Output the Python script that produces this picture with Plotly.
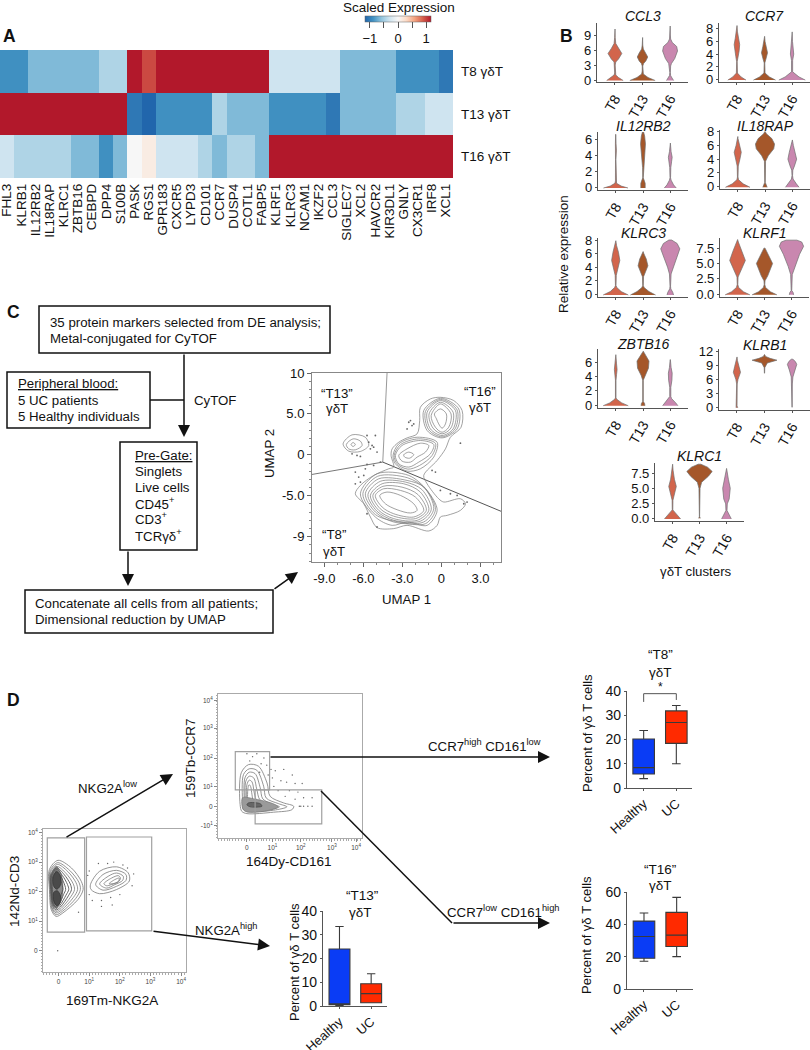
"""
Multi-panel figure: heatmap (A), violins (B), CyTOF workflow + UMAP (C), gating + boxplots (D).
Everything sits on one 810x1050 canvas, panels are placed by pixel boxes.
"""

import plotly.graph_objects as go

W, H = 810, 1050
FONT = "Liberation Sans, Arial, sans-serif"
AXIS_COLOR = "#555555"
RING_COLOR = "#7a7a7a"

# ─── A: heatmap ──────────────────────────────────────────────────────
GENES = ["FHL3", "KLRB1", "IL12RB2", "IL18RAP", "KLRC1", "ZBTB16", "CEBPD", "DPP4", "S100B",
         "PASK", "RGS1", "GPR183", "CXCR5", "LYPD3", "CD101", "CCR7", "DUSP4", "COTL1", "FABP5",
         "KLRF1", "KLRC3", "NCAM1", "IKZF2", "CCL3", "SIGLEC7", "XCL2", "HAVCR2", "KIR3DL1",
         "GNLY", "CX3CR1", "IRF8", "XCL1"]
ROWS = ["T8 γδT", "T13 γδT", "T16 γδT"]
Z_T8 = [-0.9, -0.9, -0.65, -0.65, -0.65, -0.65, -0.65, -0.45, -0.45,
        1.17, 0.97, 1.17, 1.17, 1.17, 1.17, 1.17, 1.17, 1.17, 1.17,
        -0.3, -0.3, -0.3, -0.3, -0.3, -0.65, -0.65, -0.65, -0.65,
        -0.9, -0.9, -0.9, -1.05]
Z_T13 = [1.17, 1.17, 1.17, 1.17, 1.17, 1.17, 1.17, 1.17, 1.17,
         -1.05, -1.17, -0.9, -0.9, -0.9, -0.9, -0.45, -0.65, -0.65, -0.65,
         -0.9, -0.9, -0.9, -0.9, -1.05, -0.65, -0.65, -0.65, -0.65,
         -0.45, -0.45, -0.3, -0.3]
Z_T16 = [-0.3, -0.45, -0.45, -0.45, -0.45, -0.65, -0.65, -0.9, -0.65,
         0.0, 0.12, -0.3, -0.3, -0.3, -0.45, -0.65, -0.45, -0.45, -0.65,
         1.17, 1.17, 1.17, 1.17, 1.17, 1.17, 1.17, 1.17, 1.17,
         1.17, 1.17, 1.17, 1.17]
RDBU = [[0.0, "#2166ac"], [0.125, "#4393c3"], [0.25, "#92c5de"], [0.375, "#d1e5f0"], [0.5, "#f7f7f7"],
        [0.625, "#fddbc7"], [0.75, "#f4a582"], [0.875, "#d6604d"], [1.0, "#b2182b"]]

# ─── B: violin outlines, (expression, half width in category units) ──
CLUSTERS = ["T8", "T13", "T16"]
VIOLIN_COLORS = ["#d2654c", "#a5572a", "#c987af"]

CCL3_T8 = [(-0.1, .3), (.5, .13), (1, .03), (1.4, .01), (3, .01), (3.6, .03), (4.2, .13), (5.3, .25), (6.3, .13), (7.3, .03), (8.5, .01), (10.2, .004)]
CCL3_T13 = [(-0.1, .46), (.5, .2), (1.2, .03), (1.8, .01), (2.8, .01), (3.3, .04), (3.8, .12), (4.6, .19), (5.4, .12), (6.2, .03), (7, .01), (8.5, .004)]
CCL3_T16 = [(-0.1, .13), (.4, .07), (.9, .02), (1.5, .01), (2.8, .02), (3.3, .05), (4.3, .17), (5.8, .27), (6.7, .24), (7.5, .08), (8.2, .02), (9, .01), (10.8, .004)]
CCR7_T8 = [(-0.1, .33), (.4, .15), (1, .02), (2.8, .01), (3.6, .04), (4.5, .08), (5.5, .1), (6.5, .06), (7.5, .02), (8.5, .004)]
CCR7_T13 = [(-0.1, .4), (.4, .18), (1, .02), (2.6, .01), (3.2, .05), (4.2, .11), (5.2, .06), (6, .02), (6.8, .004)]
CCR7_T16 = [(-0.1, .48), (.4, .25), (1.2, .02), (2, .01), (3, .02), (4, .06), (5, .04), (6, .015), (7.5, .004)]
IL12RB2_T8 = [(-0.1, .45), (.15, .2), (.5, .03), (.8, .01), (3.5, .008), (4.7, .025), (5.5, .012), (6.7, .004)]
IL12RB2_T13 = [(-0.1, .08), (.5, .08), (1, .03), (1.2, .01), (2.5, .015), (4, .06), (5.5, .09), (6.5, .06), (7, .02)]
IL12RB2_T16 = [(-0.1, .22), (.3, .12), (.9, .03), (1.2, .01), (2.5, .02), (3.3, .05), (3.8, .07), (4.5, .03), (5.6, .004)]
IL18RAP_T8 = [(-0.1, .45), (.4, .2), (1, .03), (1.4, .01), (3, .02), (4, .08), (5, .13), (6, .06), (7, .01), (7.3, .004)]
IL18RAP_T13 = [(-0.1, .08), (.3, .05), (.6, .01), (3.7, .02), (4.5, .12), (5.5, .32), (6.2, .35), (7, .25), (7.7, .05), (8, .01)]
IL18RAP_T16 = [(-0.1, .25), (.4, .15), (1.1, .03), (1.6, .01), (2.4, .02), (3, .08), (4, .16), (5, .11), (6, .04), (6.8, .004)]
KLRC3_T8 = [(-0.1, .46), (.4, .2), (1, .04), (1.3, .01), (2.8, .02), (3.6, .07), (5, .15), (6.2, .1), (7.2, .03), (7.9, .004)]
KLRC3_T13 = [(-0.1, .46), (.4, .22), (1, .04), (1.3, .01), (2.6, .02), (3.2, .08), (4.2, .18), (5.2, .12), (6, .03), (6.3, .004)]
KLRC3_T16 = [(-0.1, .12), (.3, .09), (.8, .02), (1.2, .01), (3, .03), (4, .1), (5.5, .24), (6.7, .35), (7.5, .25), (8, .05)]
KLRF1_T8 = [(-0.1, .46), (.4, .22), (1.1, .04), (1.6, .01), (2.8, .02), (3.6, .1), (5.5, .29), (7, .17), (8.5, .03), (8.9, .004)]
KLRF1_T13 = [(-0.1, .46), (.4, .22), (1.1, .04), (1.6, .01), (2.2, .02), (3, .12), (5, .3), (6.2, .17), (7.5, .02)]
KLRF1_T16 = [(-0.1, .08), (.3, .06), (.6, .01), (3.2, .03), (4.5, .12), (6.5, .3), (7.8, .45), (8.5, .38), (8.8, .2)]
ZBTB16_T8 = [(-0.1, .46), (.3, .22), (.8, .04), (1, .01), (3.5, .01), (4.3, .03), (5, .05), (5.8, .03), (7.1, .004)]
ZBTB16_T13 = [(-0.1, .07), (.2, .06), (.5, .01), (3.5, .01), (4.2, .07), (5.2, .2), (6.2, .22), (7, .1), (7.6, .01)]
ZBTB16_T16 = [(-0.1, .28), (.3, .2), (.9, .05), (1.2, .02), (2.5, .02), (3.5, .06), (4.5, .07), (5.3, .03), (6.4, .004)]
KLRB1_T8 = [(-0.1, .03), (.1, .03), (.3, .004), (5, .01), (6, .04), (7.5, .13), (8.8, .08), (10, .02), (10.8, .004)]
KLRB1_T13 = [(7.3, .004), (8.5, .01), (9.5, .1), (10.1, .45), (10.5, .2), (10.9, .04), (11.3, .004)]
KLRB1_T16 = [(0, .004), (5, .01), (6.5, .03), (8, .1), (9.2, .17), (9.8, .12), (10.3, .03)]
KLRC1_T8 = [(-0.1, .3), (.4, .2), (1, .08), (1.4, .01), (3, .015), (4, .07), (5.3, .14), (6.5, .07), (8, .02), (9, .004)]
KLRC1_T13 = [(0, .03), (.1, .02), (.3, .004), (5, .02), (6, .08), (7, .33), (7.8, .47), (8.5, .3), (9, .05)]
KLRC1_T16 = [(-0.1, .18), (.4, .13), (1, .06), (1.3, .02), (2.4, .03), (3.2, .1), (5, .14), (6.5, .07), (8.3, .004)]

# ─── C: UMAP contours ────────────────────────────────────────────────
UMAP_XTICKS = [-9, -6, -3, 0, 3]
UMAP_XLABELS = ["-9.0", "-6.0", "-3.0", "0", "3.0"]
UMAP_YTICKS = [10, 5, 0, -5, -10]
UMAP_YLABELS = ["10", "5.0", "0", "-5.0", "-9"]

UMAP_OUTER = [(-6.62, -4.76), (-6.23, -3.74), (-5.21, -2.52), (-4.05, -1.71), (-3.67, -1.5), (-3.87, -.08), (-3.79, .73),
              (-3.28, 1.54), (-2.64, 2.07), (-1.87, 2.56), (-1.67, 4.19), (-1.62, 5.81), (-.85, 6.83), (-.08, 7.03),
              (.95, 6.63), (1.59, 5.41), (1.51, 3.37), (.69, 2.15), (.31, .73), (-.33, -.69), (-1.36, -2.52),
              (-1.1, -3.54), (-.21, -5.37), (.18, -5.77), (1.46, -5.37), (1.85, -5.98), (1.46, -6.79), (.44, -7.4),
              (-.08, -7.6), (-.33, -8.62), (-.97, -9.31), (-2.64, -8.62), (-3.67, -9.02), (-4.95, -8.9), (-5.46, -7.6),
              (-5.97, -5.98)]
UMAP_T8_RINGS = [
    [(-6.23, -4.76), (-4.95, -2.32), (-2.51, -2.52), (-1.1, -4.35), (-.33, -6.79), (-1.1, -8.62), (-2.64, -8.21), (-3.79, -8.62), (-5.08, -7.6)],
    [(-6.04, -4.76), (-4.9, -2.62), (-2.58, -2.82), (-1.23, -4.15), (-.46, -6.69), (-1.23, -8.42), (-3.3, -8.2), (-5.08, -7.3)],
    [(-5.85, -4.76), (-4.82, -2.93), (-2.64, -3.13), (-1.36, -3.94), (-.59, -6.59), (-1.36, -8.21), (-3.67, -8.21), (-5.08, -6.99)],
    [(-5.65, -4.86), (-4.7, -3.24), (-2.77, -3.33), (-1.5, -4.25), (-.78, -6.69), (-1.6, -8.1), (-3.67, -8.0), (-4.95, -6.9)],
    [(-5.46, -4.96), (-4.56, -3.54), (-2.9, -3.54), (-1.62, -4.55), (-.97, -6.79), (-1.87, -8.01), (-3.67, -7.8), (-4.82, -6.79)],
    [(-5.27, -4.96), (-4.5, -3.85), (-3.03, -3.95), (-1.81, -4.85), (-1.16, -6.79), (-2.0, -7.8), (-3.67, -7.5), (-4.7, -6.6)],
    [(-5.08, -4.96), (-4.44, -4.15), (-3.15, -4.35), (-2.0, -5.16), (-1.36, -6.79), (-2.13, -7.6), (-3.67, -7.2), (-4.56, -6.38)],
    [(-4.74, -4.96), (-4.18, -4.55), (-3.15, -4.96), (-2.13, -5.98), (-1.87, -6.79), (-2.38, -7.11), (-3.41, -6.71), (-4.31, -5.98)],
]
UMAP_MID_RINGS = [
    [(-3.72, -.08), (-3.28, 1.34), (-1.87, 2.15), (-.33, 1.54), (-.59, -.28), (-1.62, -1.71), (-2.64, -1.99), (-3.54, -1.1)],
    [(-3.63, -.08), (-3.15, 1.24), (-1.75, 1.95), (-.46, 1.4), (-.72, -.08), (-1.68, -1.3), (-2.58, -1.75), (-3.41, -1.1)],
    [(-3.54, -.08), (-3.03, 1.14), (-1.62, 1.75), (-.59, 1.26), (-.85, .12), (-1.74, -.89), (-2.51, -1.5), (-3.28, -1.1)],
    [(-3.28, -.08), (-2.64, .73), (-1.62, 1.42), (-.97, 1.14), (-1.23, .33), (-1.87, -.28), (-2.38, -.89), (-3.03, -.77)],
    [(-2.9, 0), (-2.51, .33), (-2.13, .04), (-2.44, -.41), (-2.82, -.28)],
]
UMAP_T16_RINGS = [
    [(-1.36, 5.41), (-.08, 6.91), (1.33, 5.61), (1.21, 3.17), (.05, 2.07), (-1.1, 2.97)],
    [(-1.23, 5.3), (-.08, 6.77), (1.2, 5.5), (1.05, 3.17), (.05, 2.2), (-.98, 3.07)],
    [(-1.1, 5.2), (-.08, 6.63), (1.08, 5.41), (.9, 3.17), (.05, 2.36), (-.85, 3.17)],
    [(-.95, 5.0), (-.08, 6.42), (.9, 5.2), (.73, 3.27), (.05, 2.56), (-.65, 3.27)],
    [(-.79, 4.8), (-.08, 6.22), (.74, 5.0), (.56, 3.37), (.05, 2.76), (-.46, 3.37)],
    [(-.54, 5.0), (-.08, 5.61), (.38, 5.0), (.31, 3.78), (.05, 3.25), (-.21, 3.78), (-.38, 4.39)],
]
UMAP_T13_RINGS = [
    [(-7.56, 1.34), (-6.87, 2.44), (-5.85, 2.15), (-5.59, 1.14), (-6.23, .41), (-7.13, .45)],
    [(-7.31, 1.26), (-6.79, 1.95), (-6.23, 1.67), (-6.1, 1.14), (-6.62, .61), (-7.13, .73)],
    [(-6.95, 1.26), (-6.79, 1.5), (-6.62, 1.26), (-6.79, 1.02)],
]
UMAP_DOTS = [(-5.59, 1.54), (-5.33, 1.14), (-5.46, .73), (-5.21, .93), (-5.08, 2.36), (-5.72, 2.36), (-4.95, .33), (-6.49, -.08),
             (-6.23, -.2), (-6.87, .12), (-5.72, -1.18), (-5.21, -1.3), (-4.69, -.89), (-6.62, -2.11), (-6.36, -2.72), (-5.97, -2.52),
             (-5.85, -1.71), (-6.23, -3.33), (-6.62, -3.54), (1.97, -5.77), (1.72, -5.98), (.69, -4.76), (1.21, -4.96), (-.08, -4.35),
             (1.46, 1.42), (-2.51, 3.98), (-2.26, 3.58), (-2.38, 4.19), (-2.13, 3.78), (-2.64, 3.17), (-5.72, -7.2), (-4.95, -8.82),
             (-.46, -2.11), (-.72, -1.91)]
UMAP_GATE_A = [(-4.18, 10), (-4.51, -0.89)]
UMAP_GATE_B = [(-9.95, -2.4), (-4.51, -0.89)]
UMAP_GATE_C = [(-4.51, -0.89), (4.58, -6.9)]

# ─── D: gating plots, axes in display decades ────────────────────────
DECADE_LABELS = ["0", "10<sup>1</sup>", "10<sup>2</sup>", "10<sup>3</sup>", "10<sup>4</sup>"]
NKG2A_TICKS = [0, 1, 2, 3, 4]
CCR7_X_TICKS = [0, 0.9, 1.9, 3.0, 3.85]
CCR7_Y_TICKS = [-0.67, 0, 0.68, 1.7, 2.76, 3.73]
CCR7_Y_LABELS = ["-10<sup>1</sup>", "0", "10<sup>1</sup>", "10<sup>2</sup>", "10<sup>3</sup>", "10<sup>4</sup>"]

NKG2A_LOW_RINGS = [
    [(-.3, 2.75), (-.02, 3.06), (.42, 2.8), (.74, 2.35), (.8, 2.07), (.63, 1.73), (.14, 1.28), (-.08, 1.16), (-.24, 1.39), (-.3, 2.07)],
    [(-.28, 2.7), (-.03, 2.98), (.36, 2.72), (.66, 2.32), (.71, 2.07), (.56, 1.77), (.12, 1.33), (-.08, 1.22), (-.22, 1.42), (-.28, 2.07)],
    [(-.27, 2.65), (-.04, 2.92), (.3, 2.68), (.57, 2.3), (.62, 2.07), (.48, 1.8), (.1, 1.38), (-.08, 1.28), (-.21, 1.45), (-.27, 2.07)],
    [(-.26, 2.6), (-.05, 2.85), (.24, 2.62), (.47, 2.28), (.52, 2.07), (.4, 1.83), (.08, 1.43), (-.08, 1.33), (-.2, 1.5), (-.26, 2.07)],
]
NKG2A_LOW_INNER = [
    [(-.25, 2.58), (-.06, 2.8), (.18, 2.58), (.38, 2.26), (.42, 2.07), (.32, 1.86), (.06, 1.48), (-.08, 1.38), (-.19, 1.52), (-.25, 2.07)],
    [(-.24, 2.55), (-.07, 2.75), (.12, 2.55), (.29, 2.24), (.33, 2.07), (.24, 1.88), (.04, 1.53), (-.08, 1.43), (-.18, 1.56), (-.24, 2.07)],
    [(-.23, 2.52), (-.08, 2.7), (.07, 2.52), (.2, 2.22), (.23, 2.07), (.16, 1.9), (.02, 1.58), (-.08, 1.48), (-.17, 1.6), (-.23, 2.07)],
    [(-.2, 2.5), (-.08, 2.65), (.03, 2.5), (.12, 2.2), (.14, 2.07), (.08, 1.9), (0, 1.63), (-.08, 1.54), (-.15, 1.65), (-.2, 2.07)],
]
NKG2A_LOW_BODY = [[(-.22, 2.6), (-.08, 2.85), (.08, 2.6), (.14, 2.1), (.08, 1.7), (-.08, 1.45), (-.2, 1.65)]]
NKG2A_LOW_CORES = [
    [(-.18, 2.5), (-.06, 2.68), (.06, 2.5), (.05, 2.2), (-.06, 2.08), (-.17, 2.2)],
    [(-.16, 1.98), (-.04, 2.03), (.06, 1.85), (.04, 1.62), (-.05, 1.52), (-.15, 1.66)],
]
NKG2A_HIGH_RINGS = [
    [(1.04, 2.24), (1.34, 2.69), (1.89, 2.84), (2.27, 2.64), (2.31, 2.36), (1.89, 2.07), (1.34, 1.93), (1.06, 2.07)],
    [(1.21, 2.24), (1.45, 2.58), (1.89, 2.72), (2.2, 2.58), (2.2, 2.38), (1.89, 2.18), (1.45, 2.05)],
    [(1.34, 2.26), (1.62, 2.52), (1.89, 2.63), (2.11, 2.52), (2.09, 2.38), (1.84, 2.24), (1.56, 2.12)],
    [(1.48, 2.27), (1.73, 2.46), (1.95, 2.54), (2.02, 2.46), (1.95, 2.33), (1.73, 2.24), (1.56, 2.2)],
    [(1.65, 2.27), (1.84, 2.41), (1.98, 2.46), (1.95, 2.35), (1.78, 2.27)],
]
NKG2A_DOTS = [(1.0, 2.7), (1.3, 2.95), (1.6, 2.95), (1.8, 3.0), (2.1, 2.9), (2.25, 2.8), (2.45, 2.6), (2.4, 2.2), (2.0, 1.9), (1.7, 1.8),
              (1.4, 1.7), (1.1, 1.7), (1.0, 1.9), (.95, 2.55), (1.4, 1.5), (1.75, 1.55), (.65, 1.3), (-.03, 0)]
NKG2A_GATE_LOW = [-0.37, 0.85, 0.63, 3.82]
NKG2A_GATE_HIGH = [0.91, 3.04, 0.67, 3.85]

CCR7_RINGS = [
    [(-.24, .06), (-.2, 1.18), (.06, 1.47), (.41, 1.41), (.71, .82), (.82, .35), (1.29, .12), (1.65, 0), (1.59, -.12), (.94, -.21), (0, -.26), (-.18, -.18)],
    [(-.15, .12), (-.12, 1.12), (.08, 1.32), (.35, 1.27), (.59, .71), (.68, .29), (1.12, .09), (1.41, -.02), (.94, -.14), (.06, -.19), (-.12, -.12)],
    [(-.09, .18), (-.07, 1.0), (.08, 1.2), (.29, 1.15), (.47, .65), (.56, .26), (.94, .06), (1.15, -.02), (.82, -.12), (.06, -.14), (-.06, -.06)],
    [(-.06, .24), (-.04, .88), (.08, 1.06), (.24, 1.0), (.35, .59), (.45, .24), (.73, .05), (.88, -.02), (.59, -.08), (.06, -.09), (-.04, 0)],
    [(-.02, .29), (0, .76), (.08, .92), (.18, .86), (.26, .47), (.35, .18), (.56, .05), (.65, -.02), (.41, -.06), (.06, -.05), (-.01, .05)],
    [(.02, .34), (.04, .66), (.08, .76), (.13, .7), (.18, .4), (.24, .14), (.4, .05), (.45, 0), (.3, -.03), (.06, -.02), (.01, .07)],
]
CCR7_BODY = [[(-.15, .3), (.3, .25), (.9, .1), (1.1, -.02), (.7, -.16), (0, -.2), (-.14, -.1)]]
CCR7_CORES = [[(.06, .12), (.47, .09), (.53, 0), (.12, -.02), (0, .05)]]
CCR7_DOTS = [(0, 1.85), (.2, 1.75), (.35, 1.85), (.1, 1.6), (.5, 1.5), (.7, 1.45), (.85, 1.3), (1.0, 1.25), (1.3, 1.3), (1.6, 1.1), (.9, 1.0),
             (1.2, .9), (1.4, .85), (1.7, .8), (1.95, .8), (1.5, .55), (1.8, .5), (.95, .7), (1.1, .55), (1.35, .35), (1.7, .25), (2.0, .3),
             (1.85, 0), (2.0, 0), (2.15, 0), (2.3, 0), (2.3, .3), (.6, 1.7), (.45, 1.2), (.75, 1.1), (1.9, 0)]
CCR7_GATE_HIGH = [-0.41, 0.8, 0.58, 1.93]
CCR7_GATE_LOW = [0.29, 2.64, -0.62, 0.58]

# boxplots: lower whisker, q1, median, q3, upper whisker
GROUPS = ["Healthy", "UC"]
BOX_COLORS = ["#0a3cf5", "#ff2a00"]
T8_HEALTHY = [3.85, 5.8, 8.4, 20.2, 23.7]
T8_UC = [10, 18.4, 27, 31.8, 34]
T13_HEALTHY = [0.2, 0.5, 0.7, 24, 33.5]
T13_UC = [1.4, 1.4, 5.2, 9.4, 13.6]
T16_HEALTHY = [17.2, 19, 32.5, 42, 47]
T16_UC = [20, 26.3, 33.3, 47.4, 56.7]
T8_BRACKET_X = [0, 0, 1, 1]
T8_BRACKET_Y = [35.5, 38.9, 38.9, 36.3]

fig = go.Figure()
annotations = []
shapes = []


# ─── Helpers (all placement is in canvas pixels) ─────────────────────
def axes(n, box, xaxis=None, yaxis=None):
    """Register axis pair n on the pixel box (left, top, right, bottom)."""
    l, t, r, b = box
    fig.layout[f"xaxis{n}"] = dict(domain=[l / W, r / W], anchor=f"y{n}", automargin=False, **(xaxis or {}))
    fig.layout[f"yaxis{n}"] = dict(domain=[1 - b / H, 1 - t / H], anchor=f"x{n}", automargin=False, **(yaxis or {}))
    return dict(xaxis=f"x{n}", yaxis=f"y{n}")


def txt(x, y, text, size=13.25, anchor="left", angle=0, color="#111111"):
    annotations.append(dict(xref="paper", yref="paper", x=x / W, y=1 - y / H, text=text, showarrow=False,
                            xanchor=anchor, yanchor="middle", textangle=angle, borderpad=0,
                            font=dict(size=size, color=color, family=FONT)))


def line(x0, y0, x1, y1, width=1.5, color="#111111"):
    shapes.append(dict(type="line", xref="paper", yref="paper", x0=x0 / W, x1=x1 / W,
                       y0=1 - y0 / H, y1=1 - y1 / H, line=dict(width=width, color=color)))


def rect(x0, y0, x1, y1):
    shapes.append(dict(type="rect", xref="paper", yref="paper", x0=x0 / W, x1=x1 / W,
                       y0=1 - y0 / H, y1=1 - y1 / H, line=dict(width=1.5, color="#111111")))


def arrow(x0, y0, x1, y1):
    annotations.append(dict(xref="paper", yref="paper", x=x1 / W, y=1 - y1 / H, text="", showarrow=True,
                            axref="pixel", ayref="pixel", ax=x0 - x1, ay=y0 - y1, standoff=0,
                            arrowhead=2, arrowsize=1.6, arrowwidth=1.5, arrowcolor="#111111"))


def gate(ax, g):
    shapes.append(dict(type="rect", xref=ax["xaxis"], yref=ax["yaxis"], x0=g[0], x1=g[1], y0=g[2], y1=g[3],
                       line=dict(width=1.2, color="#a0a0a0")))


def rings(ax, ring_list, color=RING_COLOR, width=0.7, fill=None):
    for ring in ring_list:
        pts = ring + ring[:1]
        fig.add_trace(go.Scatter(x=[p[0] for p in pts], y=[p[1] for p in pts], mode="lines", showlegend=False,
                                 line=dict(color=color, width=width, shape="spline", smoothing=0.9),
                                 fill="toself" if fill else None, fillcolor=fill, hoverinfo="skip", **ax))


def dots(ax, pts, size=1.8):
    fig.add_trace(go.Scatter(x=[p[0] for p in pts], y=[p[1] for p in pts], mode="markers", showlegend=False,
                             marker=dict(size=size, color="#666666"), hoverinfo="skip", **ax))


# ─── A ───────────────────────────────────────────────────────────────
ax = axes(1, (0, 50, 453, 178),
          dict(type="category", tickmode="array", tickvals=GENES, tickangle=-90, ticks="", ticklabelstandoff=2,
               tickfont=dict(size=13.5, color="#111111"), showgrid=False),
          dict(type="category", autorange="reversed", side="right", ticks="", ticklen=0, showgrid=False,
               tickfont=dict(size=13.5, color="#111111"), ticklabelstandoff=7))
fig.add_trace(go.Heatmap(z=[Z_T8, Z_T13, Z_T16], x=GENES, y=ROWS, zmin=-1.17, zmax=1.17, colorscale=RDBU,
                         colorbar=dict(orientation="h", x=398 / W, xanchor="center", y=1 - 16 / H, yanchor="top",
                                       thickness=6, thicknessmode="pixels", len=66, lenmode="pixels",
                                       xpad=0, ypad=0, outlinewidth=0.5, outlinecolor="#666666", ticks="outside", ticklen=6,
                                       tickvals=[-1, -0.5, 0, 0.5, 1], ticktext=["−1", "", "0", "", "1"],
                                       tickcolor="#555555", tickfont=dict(size=13, color="#111111")),
                         **ax))
txt(399, 7, "Scaled Expression", size=13.5, anchor="center")
txt(2, 36, "<b>A</b>", size=17.5)

# ─── B ───────────────────────────────────────────────────────────────
VIOLIN_PANELS = [
    ("CCL3", [CCL3_T8, CCL3_T13, CCL3_T16], (597, 23, 688, 82), (-0.4, 11.4), [0, 3, 6, 9], ["0", "3", "6", "9"], 16),
    ("CCR7", [CCR7_T8, CCR7_T13, CCR7_T16], (719, 23, 810, 82), (-0.4, 8.9), [0, 2, 4, 6, 8], ["0", "2", "4", "6", "8"], 16),
    ("IL12RB2", [IL12RB2_T8, IL12RB2_T13, IL12RB2_T16], (598, 132, 688, 190), (-0.35, 7.0), [0, 2, 4, 6], ["0", "2", "4", "6"], 126),
    ("IL18RAP", [IL18RAP_T8, IL18RAP_T13, IL18RAP_T16], (720, 130, 810, 189), (-0.35, 8.25), [0, 2, 4, 6, 8], ["0", "2", "4", "6", "8"], 126),
    ("KLRC3", [KLRC3_T8, KLRC3_T13, KLRC3_T16], (598, 238, 688, 297), (-0.4, 8.3), [0, 2, 4, 6, 8], ["0", "2", "4", "6", "8"], 233),
    ("KLRF1", [KLRF1_T8, KLRF1_T13, KLRF1_T16], (720, 238, 809, 297), (-0.45, 9.15), [0, 2.5, 5, 7.5], ["0.0", "2.5", "5.0", "7.5"], 233),
    ("ZBTB16", [ZBTB16_T8, ZBTB16_T13, ZBTB16_T16], (598, 349, 688, 408), (-0.42, 7.9), [0, 2, 4, 6], ["0", "2", "4", "6"], 344),
    ("KLRB1", [KLRB1_T8, KLRB1_T13, KLRB1_T16], (719, 349, 810, 410), (-0.58, 12.5), [0, 3, 6, 9, 12], ["0", "3", "6", "9", "12"], 345),
    ("KLRC1", [KLRC1_T8, KLRC1_T13, KLRC1_T16], (655, 463, 744, 521), (-0.45, 9.2), [0, 2.5, 5, 7.5], ["0.0", "2.5", "5.0", "7.5"], 456),
]
for i, (gene, profiles, box, yr, yticks, ylabels, title_y) in enumerate(VIOLIN_PANELS):
    ax = axes(2 + i, box,
              dict(range=[-0.65, 2.65], tickvals=[0, 1, 2], ticktext=CLUSTERS, tickangle=-60, showgrid=False,
                   zeroline=False, showline=True, linecolor=AXIS_COLOR, linewidth=1.2, ticks="outside", ticklen=2,
                   tickcolor=AXIS_COLOR, tickfont=dict(size=14, color="#111111")),
              dict(range=list(yr), tickvals=yticks, ticktext=ylabels, showgrid=False, zeroline=False, showline=True,
                   linecolor=AXIS_COLOR, linewidth=1.2, ticks="outside", ticklen=2, tickcolor=AXIS_COLOR,
                   tickfont=dict(size=13, color="#111111")))
    for c, profile in enumerate(profiles):
        ys = [p[0] for p in profile]
        ws = [p[1] for p in profile]
        fig.add_trace(go.Scatter(x=[c - w for w in ws] + [c + w for w in reversed(ws)], y=ys + ys[::-1], mode="lines",
                                 fill="toself", fillcolor=VIOLIN_COLORS[c], line=dict(color="#6e6e6e", width=0.7),
                                 showlegend=False, hoverinfo="skip", **ax))
    txt((box[0] + box[2]) / 2, title_y, f"<i>{gene}</i>", size=14, anchor="center")

txt(559, 36, "<b>B</b>", size=17.5)
txt(564, 254, "Relative expression", size=13.5, anchor="center", angle=-90)
txt(696, 571, "γδT clusters", size=13.25, anchor="center")

# ─── C: workflow ─────────────────────────────────────────────────────
txt(6, 312, "<b>C</b>", size=17.5)
rect(39, 306, 330, 353)
txt(49, 322, "35 protein markers selected from DE analysis;")
txt(49, 338, "Metal-conjugated for CyTOF")
rect(7, 372, 150, 428)
txt(17, 384, "<u>Peripheral blood:</u>")
txt(17, 400, "5 UC patients")
txt(17, 416, "5 Healthy individuals")
line(150, 400, 184, 400)
arrow(184, 353, 184, 437)
txt(193, 400, "CyTOF")
rect(120, 442, 197, 550)
for yy, label in zip([455, 471, 487, 503, 519, 535],
                     ["<u>Pre-Gate:</u>", "Singlets", "Live cells", "CD45<sup>+</sup>", "CD3<sup>+</sup>", "TCRγδ<sup>+</sup>"]):
    txt(134, yy, label)
arrow(128, 550, 128, 586)
rect(25, 590, 273, 633)
txt(34, 603, "Concatenate all cells from all patients;")
txt(34, 619, "Dimensional reduction by UMAP")
arrow(273, 590, 298, 572)

# ─── C: UMAP ─────────────────────────────────────────────────────────
ax = axes(11, (312, 373, 501, 562),
          dict(range=[-9.95, 4.58], tickvals=UMAP_XTICKS, ticktext=UMAP_XLABELS, showgrid=False, zeroline=False,
               showline=True, mirror=True, linecolor="#888888", linewidth=1, ticks="outside", ticklen=4, tickcolor="#666666",
               minor=dict(dtick=1, ticks="outside", ticklen=2, tickcolor="#888888"), tickfont=dict(size=13, color="#111111")),
          dict(range=[-13.1, 10], tickvals=UMAP_YTICKS, ticktext=UMAP_YLABELS, showgrid=False, zeroline=False,
               showline=True, mirror=True, linecolor="#888888", linewidth=1, ticks="outside", ticklen=4, tickcolor="#666666",
               minor=dict(dtick=1, ticks="outside", ticklen=2, tickcolor="#888888"), tickfont=dict(size=13, color="#111111")))
for g, gc in [(UMAP_GATE_A, "#999999"), (UMAP_GATE_B, "#777777"), (UMAP_GATE_C, "#555555")]:
    fig.add_trace(go.Scatter(x=[p[0] for p in g], y=[p[1] for p in g], mode="lines", line=dict(color=gc, width=1),
                             showlegend=False, hoverinfo="skip", **ax))
rings(ax, [UMAP_OUTER] + UMAP_T8_RINGS + UMAP_MID_RINGS + UMAP_T16_RINGS + UMAP_T13_RINGS)
dots(ax, UMAP_DOTS)
txt(337, 393, "“T13”", anchor="center")
txt(337, 408, "γδT", anchor="center")
txt(480, 391, "“T16”", anchor="center")
txt(480, 407, "γδT", anchor="center")
txt(334, 534, "“T8”", anchor="center")
txt(334, 551, "γδT", anchor="center")
txt(270, 454, "UMAP 2", anchor="center", angle=-90)
txt(406, 599, "UMAP 1", anchor="center")

# ─── D: gating plots ─────────────────────────────────────────────────
txt(6, 700, "<b>D</b>", size=17.5)
flow_axis = dict(showgrid=False, zeroline=False, showline=True, mirror=True, linecolor="#aaaaaa", linewidth=1,
                 ticks="outside", ticklen=3, tickcolor="#888888", tickfont=dict(size=6.5, color="#444444"),
                 minor=dict(dtick=0.1, ticks="outside", ticklen=1.5, tickcolor="#aaaaaa"))

ax = axes(12, (43, 829, 186, 972),
          dict(range=[-0.51, 4.16], tickvals=NKG2A_TICKS, ticktext=DECADE_LABELS, **flow_axis),
          dict(range=[-0.72, 4.12], tickvals=NKG2A_TICKS, ticktext=DECADE_LABELS, **flow_axis))
gate(ax, NKG2A_GATE_LOW)
gate(ax, NKG2A_GATE_HIGH)
rings(ax, NKG2A_LOW_RINGS + NKG2A_HIGH_RINGS, width=0.8)
rings(ax, NKG2A_LOW_BODY, color="#666666", fill="#8c8c8c")
rings(ax, NKG2A_LOW_INNER, color="#555555", width=0.9)
rings(ax, NKG2A_LOW_CORES, color="#333333", fill="#4a4a4a")
dots(ax, NKG2A_DOTS, size=1.4)
txt(14, 892, "142Nd-CD3", size=13.5, anchor="center", angle=-90)
txt(112, 1000, "169Tm-NKG2A", size=13.5, anchor="center")

ax = axes(13, (218, 694, 362, 838),
          dict(range=[-1.02, 4.06], tickvals=CCR7_X_TICKS, ticktext=DECADE_LABELS, **flow_axis),
          dict(range=[-1.12, 3.96], tickvals=CCR7_Y_TICKS, ticktext=CCR7_Y_LABELS, **flow_axis))
gate(ax, CCR7_GATE_HIGH)
gate(ax, CCR7_GATE_LOW)
rings(ax, CCR7_RINGS, width=0.8)
rings(ax, CCR7_BODY, color="#777777", fill="#9a9a9a")
rings(ax, CCR7_CORES, color="#444444", fill="#666666")
dots(ax, CCR7_DOTS, size=1.4)
txt(190, 758, "159Tb-CCR7", size=13.5, anchor="center", angle=-90)
txt(289, 861, "164Dy-CD161", size=13.5, anchor="center")

arrow(65, 838, 173, 774)
txt(77, 787, "NKG2A<sup>low</sup>")
arrow(152, 931, 270, 946)
txt(194, 929, "NKG2A<sup>high</sup>")
arrow(269, 757, 550, 757)
txt(427, 745, "CCR7<sup>high</sup> CD161<sup>low</sup>")
line(321, 791, 452, 923)
arrow(452, 923, 550, 923)
txt(446, 911, "CCR7<sup>low</sup> CD161<sup>high</sup>")

# ─── D: boxplots ─────────────────────────────────────────────────────
BOX_PANELS = [
    (T8_HEALTHY, T8_UC, (627, 691, 692, 788), [-0.51, 1.48], [0, 40], [0, 10, 20, 30, 40]),
    (T13_HEALTHY, T13_UC, (323, 911, 387, 1006), [-0.52, 1.5], [0, 40], [0, 10, 20, 30, 40]),
    (T16_HEALTHY, T16_UC, (627, 892, 693, 989), [-0.52, 1.5], [0, 60], [0, 20, 40, 60]),
]
for i, (healthy, uc, box, xr, yr, yticks) in enumerate(BOX_PANELS):
    ax = axes(14 + i, box,
              dict(type="category", range=xr, categoryorder="array", categoryarray=GROUPS, tickangle=-42, showgrid=False,
                   zeroline=False, showline=True, linecolor=AXIS_COLOR, linewidth=1.2, ticks="outside", ticklen=2,
                   tickcolor=AXIS_COLOR, tickfont=dict(size=13, color="#111111")),
              dict(range=yr, tickvals=yticks, showgrid=False, zeroline=False, showline=True, linecolor=AXIS_COLOR,
                   linewidth=1.2, ticks="outside", ticklen=2, tickcolor=AXIS_COLOR, tickfont=dict(size=14, color="#111111")))
    for name, stats, color in zip(GROUPS, [healthy, uc], BOX_COLORS):
        fig.add_trace(go.Box(x=[name], lowerfence=[stats[0]], q1=[stats[1]], median=[stats[2]], q3=[stats[3]],
                             upperfence=[stats[4]], width=0.66, whiskerwidth=0.4, fillcolor=color, boxpoints=False,
                             line=dict(color="#3a3a3a", width=1.1), showlegend=False, hoverinfo="skip", **ax))
    if i == 0:
        fig.add_trace(go.Scatter(x=[GROUPS[k] for k in T8_BRACKET_X], y=T8_BRACKET_Y, mode="lines",
                                 line=dict(color="#555555", width=1), cliponaxis=False, showlegend=False,
                                 hoverinfo="skip", **ax))

txt(660, 654, "“T8”", anchor="center", size=13.5)
txt(660, 672, "γδT", anchor="center", size=13.5)
txt(660, 687, "*", anchor="center", size=12)
txt(587, 733, "Percent of γδ T cells", anchor="center", angle=-90, size=13)
txt(362, 895, "“T13”", anchor="center", size=13.5)
txt(360, 912, "γδT", anchor="center", size=13.5)
txt(294, 962, "Percent of γδ T cells", anchor="center", angle=-90, size=13)
txt(660, 869, "“T16”", anchor="center", size=13.5)
txt(660, 885, "γδT", anchor="center", size=13.5)
txt(587, 935, "Percent of γδ T cells", anchor="center", angle=-90, size=13)

fig.update_layout(width=W, height=H, margin=dict(l=0, r=0, t=0, b=0, autoexpand=False), paper_bgcolor="white", plot_bgcolor="white",
                  font=dict(family=FONT, color="#111111", size=13), showlegend=False, boxmode="overlay",
                  annotations=annotations, shapes=shapes)

fig.write_html("out.html", config={"displayModeBar": False},
               post_script="document.body.style.margin='0';document.body.style.overflow='hidden';")
